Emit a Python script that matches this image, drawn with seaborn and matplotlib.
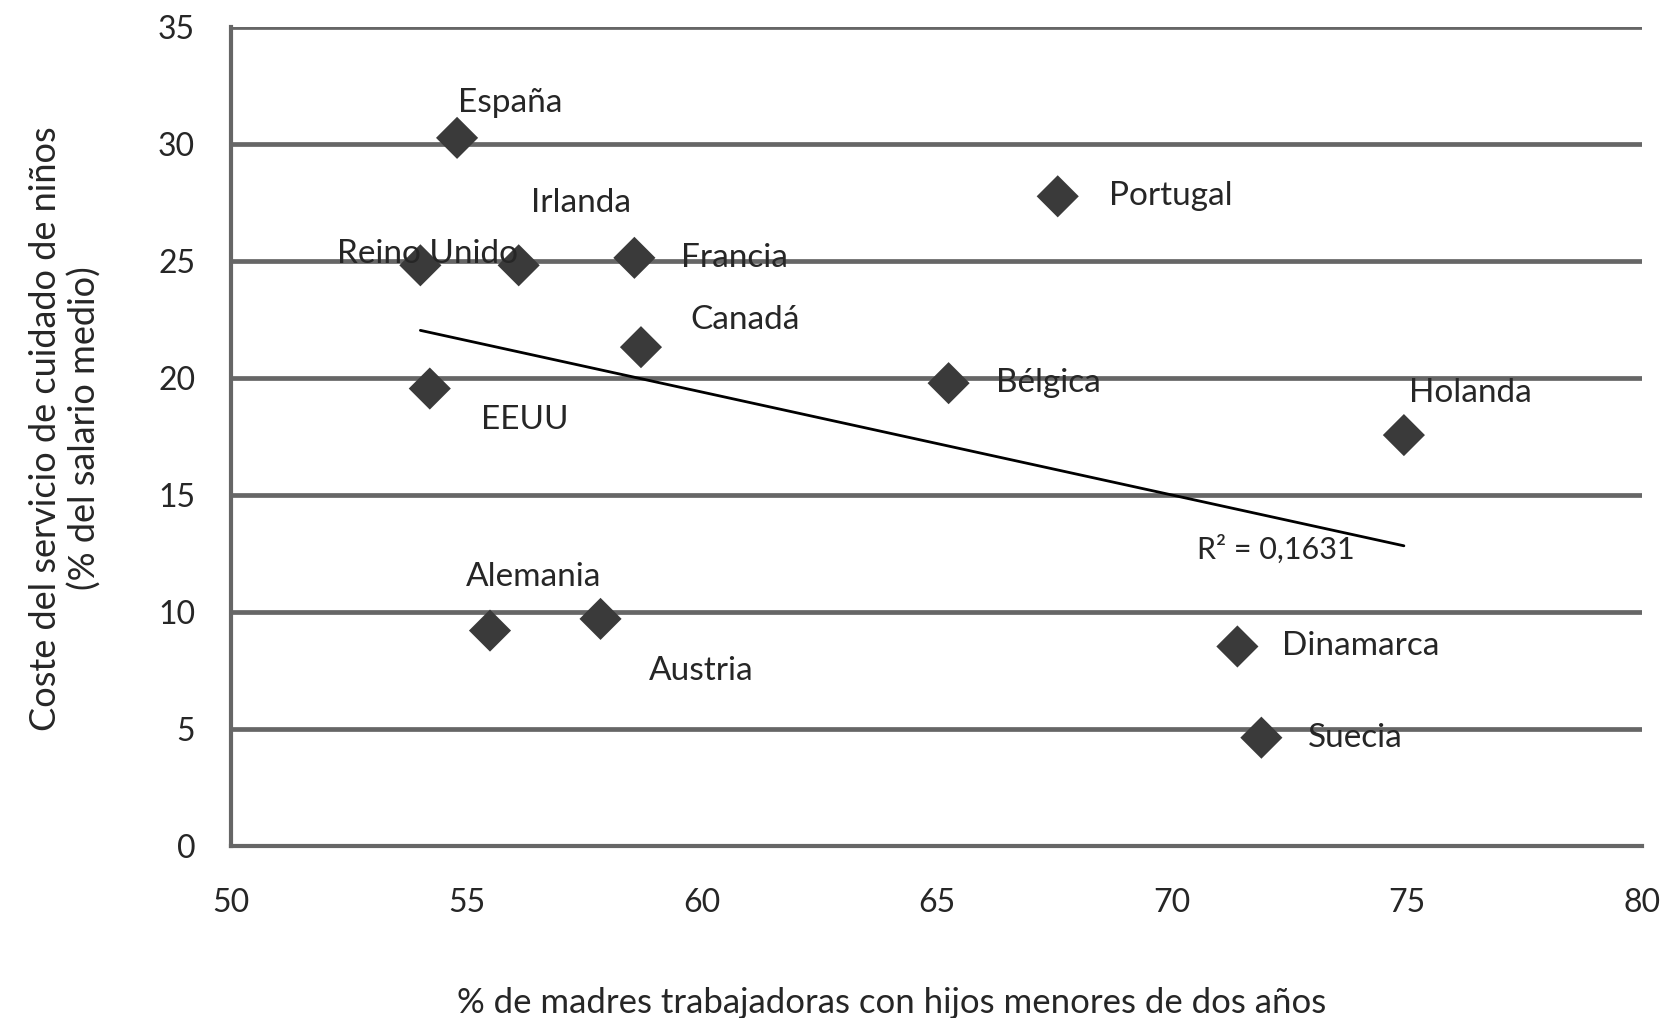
import matplotlib
matplotlib.use('Agg')
import matplotlib.pyplot as plt
import seaborn as sns
import pandas as pd

# datos
paises = ['España', 'Reino Unido', 'Irlanda', 'Francia', 'Canadá', 'EEUU', 'Portugal',
          'Bélgica', 'Holanda', 'Alemania', 'Austria', 'Dinamarca', 'Suecia']
madres = [54.80, 54.02, 56.11, 58.57, 58.71, 54.22, 67.57, 65.25, 74.93, 55.50, 57.85, 71.39, 71.90]
coste = [30.28, 24.83, 24.83, 25.15, 21.33, 19.56, 27.78, 19.79, 17.57, 9.21, 9.71, 8.53, 4.63]
r2_texto = 'R² = 0,1631'
x_ticks = [50, 55, 60, 65, 70, 75, 80]
y_ticks = [0, 5, 10, 15, 20, 25, 30, 35]

df = pd.DataFrame({'pais': paises, 'madres': madres, 'coste': coste})

# desplazamiento de cada etiqueta (pixels)
offsets = {
    'España': (1, 35), 'Irlanda': (12, 62), 'Reino Unido': (-83, 11), 'Francia': (47, 0),
    'Canadá': (49, 27), 'EEUU': (51, -31), 'Portugal': (51, 0), 'Bélgica': (47, 0),
    'Holanda': (5, 42), 'Alemania': (-24, 54), 'Austria': (48, -52), 'Dinamarca': (45, 0),
    'Suecia': (47, 0),
}

sns.set_style('white')
plt.rcParams['font.family'] = ['Lato', 'DejaVu Sans']
gris = '#666666'
texto = '#262626'

fig = plt.figure(figsize=(16.64, 10.18), dpi=100)
ax = fig.add_axes([0.139, 0.169, 0.848, 0.804])

for y in y_ticks:
    ax.axhline(y, color=gris, lw=3.4, zorder=1)

sns.regplot(data=df, x='madres', y='coste', scatter=False, ci=None, truncate=True,
            color='black', line_kws={'lw': 2.0, 'zorder': 3}, ax=ax)
sns.scatterplot(data=df, x='madres', y='coste', marker='D', s=460, color='#3a3a3a',
                edgecolor='none', zorder=4, ax=ax)

for p, x, y in zip(paises, madres, coste):
    ax.annotate(p, (x, y), xytext=offsets[p], textcoords='offset pixels',
                ha='left', va='center', fontsize=24, color=texto, zorder=5)
ax.text(70.53, 12.71, r2_texto, ha='left', va='center', fontsize=22, color=texto, zorder=5)

ax.set_xlim(50, 80)
ax.set_ylim(0, 35)
ax.set_xticks(x_ticks)
ax.set_yticks(y_ticks)
ax.tick_params(axis='both', colors=gris, width=3, length=10, direction='out',
               labelsize=23, labelcolor=texto, pad=20)
ax.tick_params(axis='y', pad=16)
for s in ['top', 'right']:
    ax.spines[s].set_visible(False)
ax.spines['left'].set_color(gris)
ax.spines['left'].set_linewidth(3)
ax.spines['bottom'].set_color(gris)
ax.spines['bottom'].set_linewidth(3)

ax.set_xlabel('% de madres trabajadoras con hijos menores de dos años', fontsize=25,
              color=texto)
ax.xaxis.set_label_coords(0.468, -0.172)
ax.set_ylabel('Coste del servicio de cuidado de niños\n(% del salario medio)', fontsize=26,
              color=texto, linespacing=1.2)
ax.yaxis.set_label_coords(-0.092, 0.51)

plt.savefig('out.png', dpi=100)
